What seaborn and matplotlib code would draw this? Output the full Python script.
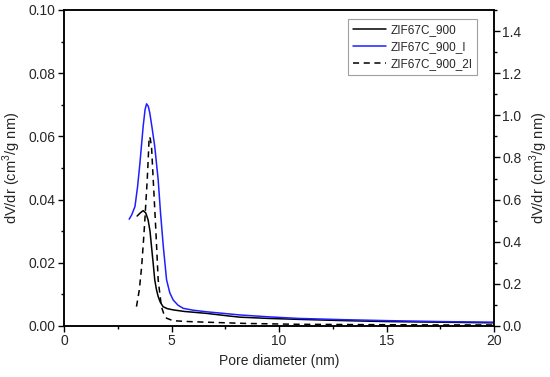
"""Pore size distribution (dV/dr) for ZIF67C_900 samples, twin y-axes."""
import numpy as np
import pandas as pd
import matplotlib
matplotlib.use("Agg")
import matplotlib.pyplot as plt
import seaborn as sns
from matplotlib.ticker import MultipleLocator

# ---------------------------------------------------------------------------
# Data (pore diameter in nm)
# ---------------------------------------------------------------------------
d_900 = [3.40, 3.55, 3.68, 3.80, 3.91, 4.00, 4.07, 4.15, 4.22, 4.30, 4.38,
         4.48, 4.61, 4.80, 5.07, 5.60, 6.62, 7.50, 8.17, 9.50, 10.9, 13.0,
         15.0, 17.5, 20.0]
v_900 = [0.0348, 0.0358, 0.0365, 0.0358, 0.0336, 0.0300, 0.0251, 0.0196,
         0.0146, 0.0115, 0.0093, 0.0075, 0.0061, 0.0055, 0.0051, 0.0046,
         0.0040, 0.0033, 0.0028, 0.0024, 0.0021, 0.0017, 0.0014, 0.0012,
         0.0010]

d_900_l = [3.03, 3.15, 3.30, 3.42, 3.53, 3.68, 3.77, 3.84, 3.92, 3.99,
           4.10, 4.22, 4.38, 4.49, 4.62, 4.77, 4.92, 5.08, 5.30, 5.54, 6.00,
           6.62, 7.40, 8.17, 9.50, 10.9, 13.0, 15.0, 17.5, 20.0]
v_900_l = [0.0338, 0.0352, 0.0378, 0.0440, 0.0515, 0.0631, 0.0685, 0.0703,
           0.0695, 0.0674, 0.0625, 0.0568, 0.0462, 0.0357, 0.0250, 0.0146,
           0.0105, 0.0082, 0.0066, 0.0056, 0.0050, 0.0045, 0.0040, 0.0035,
           0.0029, 0.0024, 0.0020, 0.0017, 0.0014, 0.0012]

d_900_2l = [3.37, 3.50, 3.61, 3.70, 3.76, 3.82, 3.87, 3.92, 3.96, 4.01,
            4.07, 4.15, 4.27, 4.38, 4.53, 4.65, 4.77, 5.07, 5.80, 6.62, 8.5,
            10.9, 13.0, 15.0, 17.5, 20.0]
v_900_2l = [0.092, 0.170, 0.281, 0.410, 0.503, 0.610, 0.693, 0.800, 0.898,
            0.890, 0.851, 0.693, 0.456, 0.218, 0.092, 0.055, 0.037, 0.025,
            0.021, 0.018, 0.012, 0.008, 0.007, 0.006, 0.005, 0.005]

labels = ["ZIF67C_900", "ZIF67C_900_I", "ZIF67C_900_2I"]

sns.set_theme(style="ticks")
plt.rcParams["font.family"] = ["Liberation Sans", "DejaVu Sans"]
plt.rcParams["mathtext.fontset"] = "custom"
plt.rcParams["mathtext.rm"] = "Liberation Sans"

fig = plt.figure(figsize=(5.5, 3.77), dpi=100)
ax = fig.add_axes([0.1164, 0.1353, 0.7818, 0.8382])
ax2 = ax.twinx()

df1 = pd.DataFrame({"d": d_900, "v": v_900})
df2 = pd.DataFrame({"d": d_900_l, "v": v_900_l})
df3 = pd.DataFrame({"d": d_900_2l, "v": v_900_2l})

sns.lineplot(data=df1, x="d", y="v", color="black", lw=1.1, ax=ax,
             label=labels[0], legend=False)
sns.lineplot(data=df2, x="d", y="v", color="#1f1fff", lw=1.1, ax=ax,
             label=labels[1], legend=False)
sns.lineplot(data=df3, x="d", y="v", color="black", lw=1.1, ax=ax2,
             label=labels[2], legend=False, linestyle=(0, (4, 3)))

ax.set_xlim(0, 20)
ax.set_ylim(0, 0.10)
ax2.set_ylim(0, 1.5)

ax.xaxis.set_major_locator(MultipleLocator(5))
ax.xaxis.set_minor_locator(MultipleLocator(2.5))
ax.yaxis.set_major_locator(MultipleLocator(0.02))
ax.yaxis.set_minor_locator(MultipleLocator(0.01))
ax.yaxis.set_major_formatter(plt.FormatStrFormatter("%.2f"))
ax2.yaxis.set_minor_locator(MultipleLocator(0.1))
ax2.set_yticks(np.arange(0, 1.41, 0.2))
ax2.yaxis.set_major_formatter(plt.FormatStrFormatter("%.1f"))

for a in (ax, ax2):
    for s in a.spines.values():
        s.set_visible(True)
        s.set_linewidth(1.1)
        s.set_color("black")
    a.tick_params(which="major", direction="out", length=4, width=1,
                  labelsize=10, color="black", pad=2)
    a.tick_params(which="minor", direction="out", length=2.5, width=1,
                  color="black")
ax.tick_params(axis="y", which="both", right=False)
ax.tick_params(axis="x", which="both", top=False)

ylab = r"dV/dr (cm$^3$/g nm)"
ax.set_ylabel(ylab, fontsize=10.5, labelpad=4)
ax2.set_ylabel(ylab, fontsize=10.5, labelpad=4)
ax.set_xlabel("Pore diameter (nm)", fontsize=10, labelpad=4)

h1, l1 = ax.get_legend_handles_labels()
h2, l2 = ax2.get_legend_handles_labels()
leg = ax2.legend(h1 + h2, l1 + l2, loc="upper right", fontsize=8.5,
                 frameon=True, fancybox=False, handlelength=2.8,
                 borderpad=0.4, labelspacing=0.45, handletextpad=0.4,
                 bbox_to_anchor=(0.975, 0.99))
leg.get_frame().set_edgecolor("#888888")
leg.get_frame().set_linewidth(0.8)

fig.savefig("out.png", dpi=100)
